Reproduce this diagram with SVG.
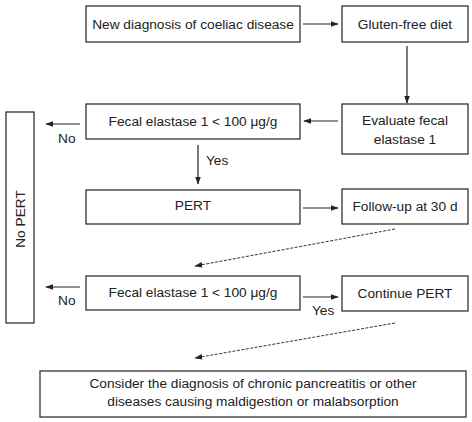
<svg xmlns="http://www.w3.org/2000/svg" width="472" height="422" viewBox="0 0 472 422">
<style>
.box{fill:#fff;stroke:#333;stroke-width:1.3}
.t{font-family:"Liberation Sans",Arial,sans-serif;font-size:13.7px;fill:#222;text-anchor:middle}
.l{font-family:"Liberation Sans",Arial,sans-serif;font-size:13.7px;fill:#222}
.c{stroke:#222;stroke-width:1.2;fill:none}
.d{stroke:#333;stroke-width:1;fill:none;stroke-dasharray:3 1.5}
</style>
<defs>
<marker id="ah" viewBox="0 0 10 10" refX="9" refY="5" markerWidth="8" markerHeight="8" markerUnits="userSpaceOnUse" orient="auto">
<path d="M0,1.5 L10,5 L0,8.5 Z" fill="#222"/>
</marker>
</defs>
<rect width="472" height="422" fill="#fff"/>
<g id="connectors">
<line class="c" x1="303" y1="24" x2="338" y2="24" marker-end="url(#ah)"/>
<line class="c" x1="407" y1="46" x2="407" y2="103" marker-end="url(#ah)"/>
<line class="c" x1="338" y1="121" x2="304" y2="121" marker-end="url(#ah)"/>
<line class="c" x1="80" y1="124" x2="46" y2="124" marker-end="url(#ah)"/>
<line class="c" x1="198" y1="145" x2="198" y2="184" marker-end="url(#ah)"/>
<line class="c" x1="303" y1="208" x2="338" y2="208" marker-end="url(#ah)"/>
<line class="d" x1="395" y1="229" x2="195" y2="266" marker-end="url(#ah)"/>
<line class="c" x1="80" y1="287" x2="46" y2="287" marker-end="url(#ah)"/>
<line class="c" x1="303" y1="297" x2="338" y2="297" marker-end="url(#ah)"/>
<line class="d" x1="395" y1="323" x2="195" y2="358" marker-end="url(#ah)"/>
<text class="l" x="58" y="143">No</text>
<text class="l" x="206" y="165">Yes</text>
<text class="l" x="58" y="305">No</text>
<text class="l" x="312" y="315">Yes</text>
</g>
<g id="new-diagnosis">
<rect class="box" x="86" y="6" width="214" height="36"/>
<text class="t" x="193" y="29">New diagnosis of coeliac disease</text>
</g>
<g id="gluten-free">
<rect class="box" x="342" y="6" width="126" height="36"/>
<text class="t" x="405" y="29">Gluten-free diet</text>
</g>
<g id="evaluate">
<rect class="box" x="342" y="104" width="126" height="50"/>
<text class="t" x="405" y="125">Evaluate fecal</text>
<text class="t" x="405" y="144">elastase 1</text>
</g>
<g id="fecal1">
<rect class="box" x="86" y="104" width="214" height="35"/>
<text class="t" x="193" y="126">Fecal elastase 1 &lt; 100 μg/g</text>
</g>
<g id="no-pert">
<rect class="box" x="6" y="112" width="28" height="211"/>
<text class="t" transform="translate(25,219) rotate(-90)">No PERT</text>
</g>
<g id="pert">
<rect class="box" x="86" y="190" width="214" height="34"/>
<text class="t" x="193" y="210">PERT</text>
</g>
<g id="follow-up">
<rect class="box" x="342" y="189" width="126" height="35"/>
<text class="t" x="405" y="211">Follow-up at 30 d</text>
</g>
<g id="fecal2">
<rect class="box" x="86" y="276" width="214" height="34"/>
<text class="t" x="193" y="297">Fecal elastase 1 &lt; 100 μg/g</text>
</g>
<g id="continue-pert">
<rect class="box" x="342" y="276" width="126" height="35"/>
<text class="t" x="405" y="298">Continue PERT</text>
</g>
<g id="consider">
<rect class="box" x="40" y="371" width="426" height="46"/>
<text class="t" x="253" y="388">Consider the diagnosis of chronic pancreatitis or other</text>
<text class="t" x="253" y="406">diseases causing maldigestion or malabsorption</text>
</g>
</svg>
